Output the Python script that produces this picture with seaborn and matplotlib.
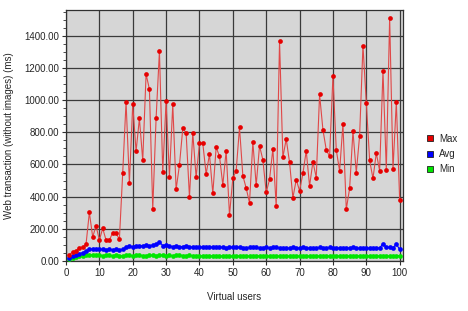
import numpy as np
import pandas as pd
import matplotlib
matplotlib.use("Agg")
import matplotlib.pyplot as plt
from matplotlib.lines import Line2D
from matplotlib.ticker import MultipleLocator, FormatStrFormatter
import seaborn as sns

users = list(range(1, 101))
max_ms = [37, 58, 62, 83, 87, 103, 302, 149, 219, 130,
          203, 130, 130, 176, 172, 135, 549, 989, 484, 975,
          681, 886, 625, 1161, 1068, 323, 886, 1304, 555, 994,
          524, 973, 445, 596, 824, 797, 397, 795, 520, 731,
          731, 540, 664, 420, 706, 652, 472, 685, 284, 515,
          561, 830, 530, 453, 362, 739, 470, 716, 629, 426,
          507, 698, 339, 1366, 644, 758, 613, 393, 505, 437,
          544, 685, 466, 617, 518, 1035, 816, 691, 650, 1149,
          691, 559, 851, 321, 451, 807, 549, 780, 1339, 985,
          625, 513, 671, 561, 1182, 565, 1513, 569, 990, 377]
avg_ms = [20, 30, 38, 46, 52, 60, 72, 76, 74, 72,
          73, 71, 72, 70, 72, 71, 73, 86, 92, 90,
          95, 93, 96, 98, 95, 100, 104, 118, 96, 98,
          92, 90, 95, 88, 90, 96, 88, 86, 90, 85,
          88, 86, 90, 84, 86, 88, 84, 82, 86, 88,
          84, 86, 82, 80, 84, 86, 84, 80, 82, 84,
          80, 84, 86, 80, 82, 78, 80, 84, 82, 80,
          84, 82, 80, 78, 82, 84, 80, 82, 84, 80,
          82, 80, 78, 82, 80, 84, 80, 78, 82, 80,
          80, 78, 82, 80, 108, 84, 86, 82, 105, 72]
min_ms = [15, 20, 25, 30, 34, 36, 40, 38, 35, 36,
          34, 36, 35, 33, 36, 34, 32, 35, 37, 33,
          35, 36, 34, 33, 37, 35, 33, 38, 36, 34,
          35, 33, 36, 37, 34, 33, 35, 32, 34, 33,
          32, 34, 31, 33, 32, 30, 33, 31, 32, 30,
          32, 31, 33, 30, 31, 32, 30, 33, 31, 32,
          30, 32, 31, 30, 33, 31, 30, 32, 31, 30,
          32, 30, 31, 33, 30, 31, 32, 30, 31, 32,
          30, 31, 32, 30, 31, 30, 32, 31, 30, 32,
          31, 30, 32, 31, 33, 30, 31, 32, 33, 34]
series_names = ["Max", "Avg", "Min"]
series_colors = {"Max": "#e60000", "Avg": "#0000ff", "Min": "#00e600"}
line_colors = {"Max": "#e04848", "Avg": "#0000ff", "Min": "#00e600"}

df = pd.concat([
    pd.DataFrame({"users": users, "ms": max_ms, "series": "Max"}),
    pd.DataFrame({"users": users, "ms": avg_ms, "series": "Avg"}),
    pd.DataFrame({"users": users, "ms": min_ms, "series": "Min"}),
])

sns.set_style("white")
plt.rcParams["font.family"] = ["Liberation Sans", "DejaVu Sans"]

fig = plt.figure(figsize=(4.68, 3.11), dpi=100)
ax = fig.add_axes([66 / 468, 1 - 261 / 311, (403 - 66) / 468, (261 - 10) / 311])
ax.set_facecolor("#d6d6d6")

for name in ["Min", "Avg", "Max"]:
    sub = df[df["series"] == name]
    sns.lineplot(data=sub, x="users", y="ms", ax=ax, color=line_colors[name],
                 lw=0.8, marker="o", markersize=3.4, markeredgewidth=0,
                 markerfacecolor=series_colors[name], legend=False, zorder=3)

ax.set_xlim(0, 101)
ax.set_ylim(0, 1560)
ax.xaxis.set_major_locator(MultipleLocator(10))
ax.yaxis.set_major_locator(MultipleLocator(200))
ax.yaxis.set_minor_locator(MultipleLocator(50))
ax.yaxis.set_major_formatter(FormatStrFormatter("%.2f"))
ax.grid(True, which="major", color="#3a3a3a", lw=0.9, zorder=1)
ax.set_axisbelow(True)
for s in ax.spines.values():
    s.set_color("#303030")
    s.set_linewidth(0.9)
ax.tick_params(axis="both", which="major", labelsize=7, length=3, width=0.8,
               direction="out", color="#303030", pad=2, left=True, bottom=True)
ax.tick_params(axis="y", which="minor", length=2, width=0.6, color="#303030", left=True)
ax.set_xlabel("Virtual users", fontsize=7, labelpad=10)
ax.set_ylabel("Web transaction (without images) (ms)", fontsize=7, labelpad=7)

handles = [Line2D([], [], ls="none", marker="s", markersize=5,
                  markerfacecolor=series_colors[n], markeredgecolor="#202020",
                  markeredgewidth=0.6) for n in series_names]
fig.legend(handles, series_names, loc="upper left", bbox_to_anchor=(417 / 468, 1 - 125 / 311),
           frameon=False, fontsize=7, handlelength=0.8, handletextpad=0.6, labelspacing=0.55)

fig.savefig("out.png", dpi=100, facecolor="white")
